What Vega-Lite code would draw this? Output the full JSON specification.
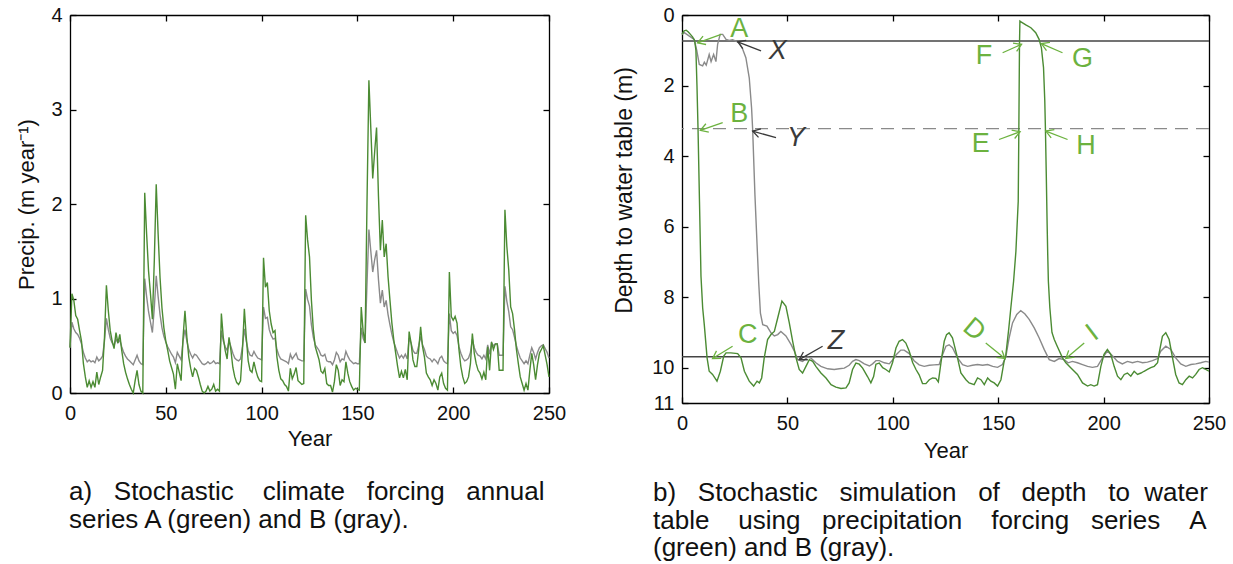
{
"$schema": "https://vega.github.io/schema/vega-lite/v6.json",
"padding": {"left": 15, "top": 5, "right": 20, "bottom": 5},
"autosize": {"type": "pad"},
"bounds": "flush",
"spacing": 133,
"config": {
  "font": "Liberation Sans",
  "view": {"stroke": null},
  "axis": {"domainColor": "#000000", "domainWidth": 1.3, "tickColor": "#000000", "tickWidth": 1.3, "tickSize": -6,
    "labelFont": "Liberation Sans", "labelFontSize": 20, "labelColor": "#111111", "labelFlush": false, "labelOverlap": false, "labelPadding": 14,
    "titleFont": "Liberation Sans", "titleFontSize": 22, "titleFontWeight": "normal", "titleColor": "#111111", "grid": false}
},
"datasets": {
  "precip": [
{"year":0,"A":0.48,"B":0.48},{"year":1,"A":1.05,"B":0.75},{"year":2,"A":0.98,"B":0.68},{"year":3,"A":0.82,"B":0.64},{"year":4,"A":0.78,"B":0.62},{"year":5,"A":0.66,"B":0.58},{"year":6,"A":0.55,"B":0.52},{"year":7,"A":0.31,"B":0.43},{"year":8,"A":0.17,"B":0.37},{"year":9,"A":0.06,"B":0.33},
{"year":10,"A":0.13,"B":0.35},{"year":11,"A":0.06,"B":0.33},{"year":12,"A":0.12,"B":0.34},{"year":13,"A":0.06,"B":0.32},{"year":14,"A":0.22,"B":0.38},{"year":15,"A":0.09,"B":0.34},{"year":16,"A":0.17,"B":0.36},{"year":17,"A":0.24,"B":0.39},{"year":18,"A":0.59,"B":0.55},{"year":19,"A":1.14,"B":0.79},
{"year":20,"A":0.87,"B":0.67},{"year":21,"A":0.66,"B":0.58},{"year":22,"A":0.55,"B":0.53},{"year":23,"A":0.47,"B":0.5},{"year":24,"A":0.64,"B":0.57},{"year":25,"A":0.53,"B":0.53},{"year":26,"A":0.62,"B":0.56},{"year":27,"A":0.45,"B":0.49},{"year":28,"A":0.31,"B":0.43},{"year":29,"A":0.22,"B":0.39},
{"year":30,"A":0.15,"B":0.36},{"year":31,"A":0.09,"B":0.34},{"year":32,"A":0.04,"B":0.32},{"year":33,"A":0.0,"B":0.3},{"year":34,"A":0.13,"B":0.35},{"year":35,"A":0.24,"B":0.4},{"year":36,"A":0.09,"B":0.34},{"year":37,"A":0.02,"B":0.31},{"year":38,"A":0.0,"B":0.3},{"year":39,"A":2.12,"B":1.21},
{"year":40,"A":1.68,"B":1.02},{"year":41,"A":1.29,"B":0.86},{"year":42,"A":1.05,"B":0.75},{"year":43,"A":0.78,"B":0.64},{"year":44,"A":1.4,"B":0.9},{"year":45,"A":2.21,"B":1.24},{"year":46,"A":1.68,"B":1.02},{"year":47,"A":1.22,"B":0.83},{"year":48,"A":0.9,"B":0.69},{"year":49,"A":0.69,"B":0.6},
{"year":50,"A":0.55,"B":0.54},{"year":51,"A":0.45,"B":0.49},{"year":52,"A":0.34,"B":0.45},{"year":53,"A":0.27,"B":0.41},{"year":54,"A":0.2,"B":0.38},{"year":55,"A":0.04,"B":0.32},{"year":56,"A":0.31,"B":0.43},{"year":57,"A":0.22,"B":0.39},{"year":58,"A":0.13,"B":0.35},{"year":59,"A":0.59,"B":0.55},
{"year":60,"A":0.87,"B":0.67},{"year":61,"A":0.59,"B":0.55},{"year":62,"A":0.38,"B":0.46},{"year":63,"A":0.26,"B":0.41},{"year":64,"A":0.17,"B":0.37},{"year":65,"A":0.26,"B":0.41},{"year":66,"A":0.24,"B":0.4},{"year":67,"A":0.17,"B":0.37},{"year":68,"A":0.09,"B":0.34},{"year":69,"A":0.02,"B":0.31},
{"year":70,"A":0.0,"B":0.3},{"year":71,"A":0.02,"B":0.31},{"year":72,"A":0.07,"B":0.33},{"year":73,"A":0.02,"B":0.31},{"year":74,"A":0.04,"B":0.32},{"year":75,"A":0.09,"B":0.34},{"year":76,"A":0.02,"B":0.31},{"year":77,"A":0.04,"B":0.32},{"year":78,"A":0.02,"B":0.31},{"year":79,"A":0.84,"B":0.66},
{"year":80,"A":0.59,"B":0.55},{"year":81,"A":0.45,"B":0.49},{"year":82,"A":0.36,"B":0.45},{"year":83,"A":0.59,"B":0.55},{"year":84,"A":0.45,"B":0.49},{"year":85,"A":0.27,"B":0.42},{"year":86,"A":0.17,"B":0.37},{"year":87,"A":0.11,"B":0.35},{"year":88,"A":0.09,"B":0.34},{"year":89,"A":0.13,"B":0.36},
{"year":90,"A":0.45,"B":0.49},{"year":91,"A":0.89,"B":0.68},{"year":92,"A":0.59,"B":0.55},{"year":93,"A":0.34,"B":0.45},{"year":94,"A":0.24,"B":0.4},{"year":95,"A":0.22,"B":0.39},{"year":96,"A":0.33,"B":0.44},{"year":97,"A":0.24,"B":0.4},{"year":98,"A":0.17,"B":0.37},{"year":99,"A":0.13,"B":0.36},
{"year":100,"A":0.12,"B":0.35},{"year":101,"A":1.43,"B":0.91},{"year":102,"A":1.12,"B":0.79},{"year":103,"A":1.17,"B":0.8},{"year":104,"A":0.87,"B":0.67},{"year":105,"A":0.73,"B":0.61},{"year":106,"A":0.64,"B":0.57},{"year":107,"A":0.66,"B":0.58},{"year":108,"A":0.38,"B":0.46},{"year":109,"A":0.24,"B":0.4},
{"year":110,"A":0.15,"B":0.36},{"year":111,"A":0.13,"B":0.35},{"year":112,"A":0.09,"B":0.34},{"year":113,"A":0.07,"B":0.33},{"year":114,"A":0.02,"B":0.31},{"year":115,"A":0.26,"B":0.41},{"year":116,"A":0.15,"B":0.36},{"year":117,"A":0.2,"B":0.39},{"year":118,"A":0.27,"B":0.42},{"year":119,"A":0.13,"B":0.36},
{"year":120,"A":0.11,"B":0.35},{"year":121,"A":0.09,"B":0.34},{"year":122,"A":0.1,"B":0.34},{"year":123,"A":1.88,"B":1.1},{"year":124,"A":1.62,"B":0.99},{"year":125,"A":1.44,"B":0.92},{"year":126,"A":0.98,"B":0.72},{"year":127,"A":0.67,"B":0.59},{"year":128,"A":0.49,"B":0.51},{"year":129,"A":0.42,"B":0.48},
{"year":130,"A":0.35,"B":0.45},{"year":131,"A":0.23,"B":0.4},{"year":132,"A":0.21,"B":0.39},{"year":133,"A":0.26,"B":0.41},{"year":134,"A":0.1,"B":0.34},{"year":135,"A":0.08,"B":0.33},{"year":136,"A":0.08,"B":0.33},{"year":137,"A":0.01,"B":0.3},{"year":138,"A":0.12,"B":0.35},{"year":139,"A":0.3,"B":0.43},
{"year":140,"A":0.24,"B":0.4},{"year":141,"A":0.08,"B":0.33},{"year":142,"A":0.14,"B":0.36},{"year":143,"A":0.12,"B":0.35},{"year":144,"A":0.33,"B":0.44},{"year":145,"A":0.21,"B":0.39},{"year":146,"A":0.12,"B":0.35},{"year":147,"A":0.07,"B":0.33},{"year":148,"A":0.03,"B":0.31},{"year":149,"A":0.05,"B":0.32},
{"year":150,"A":0.04,"B":0.31},{"year":151,"A":0.03,"B":0.31},{"year":152,"A":0.91,"B":0.69},{"year":153,"A":0.65,"B":0.58},{"year":154,"A":0.53,"B":0.53},{"year":155,"A":2.0,"B":1.15},{"year":156,"A":3.31,"B":1.73},{"year":157,"A":2.8,"B":1.5},{"year":158,"A":2.27,"B":1.28},{"year":159,"A":2.55,"B":1.41},
{"year":160,"A":2.81,"B":1.51},{"year":161,"A":2.08,"B":1.2},{"year":162,"A":1.51,"B":0.95},{"year":163,"A":1.83,"B":1.09},{"year":164,"A":1.44,"B":0.91},{"year":165,"A":1.58,"B":0.98},{"year":166,"A":1.23,"B":0.83},{"year":167,"A":0.98,"B":0.72},{"year":168,"A":0.74,"B":0.62},{"year":169,"A":0.56,"B":0.54},
{"year":170,"A":0.42,"B":0.48},{"year":171,"A":0.28,"B":0.42},{"year":172,"A":0.16,"B":0.37},{"year":173,"A":0.23,"B":0.4},{"year":174,"A":0.16,"B":0.37},{"year":175,"A":0.25,"B":0.41},{"year":176,"A":0.14,"B":0.36},{"year":177,"A":0.65,"B":0.58},{"year":178,"A":0.53,"B":0.53},{"year":179,"A":0.35,"B":0.45},
{"year":180,"A":0.28,"B":0.42},{"year":181,"A":0.28,"B":0.42},{"year":182,"A":0.46,"B":0.5},{"year":183,"A":0.7,"B":0.6},{"year":184,"A":0.49,"B":0.51},{"year":185,"A":0.38,"B":0.46},{"year":186,"A":0.21,"B":0.39},{"year":187,"A":0.17,"B":0.37},{"year":188,"A":0.14,"B":0.36},{"year":189,"A":0.08,"B":0.33},
{"year":190,"A":0.14,"B":0.36},{"year":191,"A":0.1,"B":0.34},{"year":192,"A":0.03,"B":0.31},{"year":193,"A":0.17,"B":0.37},{"year":194,"A":0.21,"B":0.39},{"year":195,"A":0.1,"B":0.34},{"year":196,"A":0.05,"B":0.32},{"year":197,"A":0.03,"B":0.31},{"year":198,"A":1.28,"B":0.84},{"year":199,"A":0.81,"B":0.66},
{"year":200,"A":0.77,"B":0.63},{"year":201,"A":0.81,"B":0.65},{"year":202,"A":0.74,"B":0.61},{"year":203,"A":0.46,"B":0.49},{"year":204,"A":0.28,"B":0.42},{"year":205,"A":0.17,"B":0.37},{"year":206,"A":0.1,"B":0.34},{"year":207,"A":0.12,"B":0.35},{"year":208,"A":0.17,"B":0.37},{"year":209,"A":0.31,"B":0.43},
{"year":210,"A":0.63,"B":0.57},{"year":211,"A":0.42,"B":0.48},{"year":212,"A":0.31,"B":0.43},{"year":213,"A":0.24,"B":0.4},{"year":214,"A":0.21,"B":0.39},{"year":215,"A":0.15,"B":0.36},{"year":216,"A":0.22,"B":0.4},{"year":217,"A":0.14,"B":0.36},{"year":218,"A":0.49,"B":0.51},{"year":219,"A":0.24,"B":0.41},
{"year":220,"A":0.54,"B":0.53},{"year":221,"A":0.46,"B":0.5},{"year":222,"A":0.52,"B":0.52},{"year":223,"A":0.52,"B":0.52},{"year":224,"A":0.24,"B":0.4},{"year":225,"A":0.24,"B":0.4},{"year":226,"A":0.24,"B":0.4},{"year":227,"A":1.94,"B":1.13},{"year":228,"A":1.55,"B":0.97},{"year":229,"A":1.3,"B":0.86},
{"year":230,"A":0.91,"B":0.7},{"year":231,"A":0.84,"B":0.67},{"year":232,"A":0.67,"B":0.59},{"year":233,"A":0.46,"B":0.5},{"year":234,"A":0.31,"B":0.43},{"year":235,"A":0.17,"B":0.37},{"year":236,"A":0.1,"B":0.34},{"year":237,"A":0.03,"B":0.31},{"year":238,"A":0.1,"B":0.34},{"year":239,"A":0.03,"B":0.31},
{"year":240,"A":0.24,"B":0.4},{"year":241,"A":0.42,"B":0.48},{"year":242,"A":0.3,"B":0.43},{"year":243,"A":0.14,"B":0.36},{"year":244,"A":0.3,"B":0.43},{"year":245,"A":0.42,"B":0.48},{"year":246,"A":0.46,"B":0.5},{"year":247,"A":0.5,"B":0.51},{"year":248,"A":0.4,"B":0.47},{"year":249,"A":0.3,"B":0.43},
{"year":250,"A":0.17,"B":0.37}
  ],
  "depthA": [
{"year":0,"depth":0.55},{"year":1,"depth":0.45},{"year":2,"depth":0.43},{"year":3,"depth":0.48},{"year":4,"depth":0.55},{"year":5,"depth":0.62},{"year":6,"depth":0.72},{"year":6.6,"depth":1.0},{"year":7.1,"depth":2.0},{"year":7.6,"depth":3.22},
{"year":8.3,"depth":5.3},{"year":9.0,"depth":7.4},{"year":9.8,"depth":8.3},{"year":10.6,"depth":8.8},{"year":11.9,"depth":9.72},{"year":12.9,"depth":10.1},{"year":14.5,"depth":10.19},{"year":16.6,"depth":10.38},{"year":18.2,"depth":10.1},{"year":19.8,"depth":9.67},
{"year":20.9,"depth":9.58},{"year":23.2,"depth":9.58},{"year":26.4,"depth":9.6},{"year":28,"depth":9.72},{"year":29.6,"depth":10.1},{"year":31.9,"depth":10.38},{"year":34,"depth":10.52},{"year":35.6,"depth":10.38},{"year":36.7,"depth":10.43},{"year":37.8,"depth":10.29},
{"year":39,"depth":9.72},{"year":40.6,"depth":9.2},{"year":42.2,"depth":9.06},{"year":43.8,"depth":8.97},{"year":45.4,"depth":8.59},{"year":47.4,"depth":8.11},{"year":49.3,"depth":8.26},{"year":50.9,"depth":8.73},{"year":52.5,"depth":9.25},{"year":54.1,"depth":9.72},
{"year":55.6,"depth":10.05},{"year":57.2,"depth":10.15},{"year":58.8,"depth":9.96},{"year":60.4,"depth":9.77},{"year":62,"depth":9.82},{"year":63.5,"depth":9.96},{"year":65.9,"depth":10.15},{"year":68.3,"depth":10.29},{"year":70.7,"depth":10.48},{"year":73,"depth":10.55},
{"year":75.4,"depth":10.59},{"year":77.8,"depth":10.57},{"year":79.3,"depth":10.43},{"year":80.9,"depth":10.05},{"year":82.5,"depth":9.87},{"year":84.1,"depth":9.9},{"year":85.7,"depth":10.01},{"year":88,"depth":10.25},{"year":89.6,"depth":10.43},{"year":90.9,"depth":10.25},
{"year":92,"depth":9.9},{"year":93.6,"depth":9.87},{"year":95.2,"depth":10.0},{"year":96.7,"depth":10.05},{"year":98.3,"depth":10.12},{"year":99.9,"depth":9.85},{"year":101.5,"depth":9.44},{"year":103,"depth":9.25},{"year":104.6,"depth":9.2},{"year":106.2,"depth":9.3},
{"year":107.8,"depth":9.53},{"year":109.4,"depth":9.85},{"year":111,"depth":10.05},{"year":112.5,"depth":10.2},{"year":114.1,"depth":10.45},{"year":115.7,"depth":10.45},{"year":117.3,"depth":10.34},{"year":118.9,"depth":10.29},{"year":120.4,"depth":10.3},{"year":121.6,"depth":10.4},
{"year":123.1,"depth":9.75},{"year":124.4,"depth":9.25},{"year":125.5,"depth":9.06},{"year":126.7,"depth":9.01},{"year":128.3,"depth":9.15},{"year":130.7,"depth":9.72},{"year":132.3,"depth":10.15},{"year":134.7,"depth":10.34},{"year":136.2,"depth":10.43},{"year":138.6,"depth":10.48},
{"year":140.2,"depth":10.29},{"year":141.8,"depth":10.34},{"year":143.4,"depth":10.48},{"year":145,"depth":10.29},{"year":146.5,"depth":10.38},{"year":148.1,"depth":10.43},{"year":149.7,"depth":10.52},{"year":151.3,"depth":10.34},{"year":152.8,"depth":9.82},{"year":153.6,"depth":9.65},
{"year":155,"depth":8.9},{"year":156,"depth":8.3},{"year":157.3,"depth":7.55},{"year":158.4,"depth":6.7},{"year":159.5,"depth":5.28},{"year":159.8,"depth":3.22},{"year":160.1,"depth":0.83},{"year":160.3,"depth":0.17},{"year":161,"depth":0.2},{"year":163.1,"depth":0.28},
{"year":165.5,"depth":0.36},{"year":167.8,"depth":0.5},{"year":169.4,"depth":0.69},{"year":170.5,"depth":0.93},{"year":171.5,"depth":1.49},{"year":172.1,"depth":2.44},{"year":172.4,"depth":3.22},{"year":172.8,"depth":4.5},{"year":173.2,"depth":5.9},{"year":173.5,"depth":6.8},
{"year":173.8,"depth":7.55},{"year":174.5,"depth":8.3},{"year":175.5,"depth":9.0},{"year":176.6,"depth":9.2},{"year":178,"depth":9.39},{"year":180.5,"depth":9.72},{"year":182.1,"depth":9.86},{"year":184.4,"depth":10.0},{"year":187.6,"depth":10.19},{"year":190,"depth":10.43},
{"year":192.4,"depth":10.52},{"year":193.9,"depth":10.48},{"year":195.5,"depth":10.52},{"year":197.1,"depth":10.48},{"year":198.7,"depth":9.96},{"year":200.2,"depth":9.62},{"year":201.8,"depth":9.48},{"year":203.4,"depth":9.62},{"year":205,"depth":9.96},{"year":206.6,"depth":10.24},
{"year":208.2,"depth":10.34},{"year":209.8,"depth":10.19},{"year":211.3,"depth":10.15},{"year":212.9,"depth":10.24},{"year":214.5,"depth":10.1},{"year":216.1,"depth":10.19},{"year":217.7,"depth":10.15},{"year":219.2,"depth":10.1},{"year":220.8,"depth":10.05},{"year":222.4,"depth":10.0},
{"year":224,"depth":9.96},{"year":225.6,"depth":9.86},{"year":226.3,"depth":9.6},{"year":227.9,"depth":9.11},{"year":229.5,"depth":9.01},{"year":231.1,"depth":9.2},{"year":232.7,"depth":9.72},{"year":234.2,"depth":10.19},{"year":235.8,"depth":10.43},{"year":237.4,"depth":10.48},
{"year":239,"depth":10.34},{"year":240.6,"depth":10.24},{"year":242.2,"depth":10.29},{"year":243.7,"depth":10.19},{"year":245.3,"depth":10.05},{"year":246.9,"depth":10.0},{"year":248.5,"depth":10.05},{"year":250,"depth":10.1}
  ],
  "depthB": [
{"year":0,"depth":0.55},{"year":1.1,"depth":0.5},{"year":3.5,"depth":0.6},{"year":5.8,"depth":0.69},{"year":7.0,"depth":1.0},{"year":8.2,"depth":1.4},{"year":9.8,"depth":1.44},{"year":10.6,"depth":1.34},{"year":11.5,"depth":1.42},{"year":12.9,"depth":1.12},
{"year":13.8,"depth":1.32},{"year":15,"depth":1.12},{"year":16.1,"depth":1.32},{"year":16.9,"depth":0.83},{"year":18.1,"depth":0.55},{"year":19.3,"depth":0.55},{"year":20.9,"depth":0.69},{"year":22.4,"depth":0.72},{"year":24,"depth":0.7},{"year":25.6,"depth":0.74},
{"year":27.2,"depth":0.79},{"year":28.8,"depth":0.97},{"year":30.3,"depth":1.21},{"year":31.9,"depth":1.78},{"year":33,"depth":2.63},{"year":33.5,"depth":3.22},{"year":34.6,"depth":5.1},{"year":35.6,"depth":6.5},{"year":36.4,"depth":7.6},{"year":37.2,"depth":8.45},
{"year":38.3,"depth":8.78},{"year":40.3,"depth":8.82},{"year":42.2,"depth":9.01},{"year":43.8,"depth":9.1},{"year":45.4,"depth":9.06},{"year":46.9,"depth":8.97},{"year":49.3,"depth":9.1},{"year":51.7,"depth":9.34},{"year":53.3,"depth":9.53},{"year":54.9,"depth":9.77},
{"year":57.2,"depth":9.82},{"year":59.6,"depth":9.7},{"year":61.2,"depth":9.73},{"year":63.5,"depth":9.86},{"year":65.9,"depth":9.96},{"year":69.1,"depth":10.03},{"year":72.2,"depth":10.05},{"year":74.6,"depth":10.03},{"year":77,"depth":10.01},{"year":79.3,"depth":9.93},
{"year":80.9,"depth":9.82},{"year":82.5,"depth":9.77},{"year":84.1,"depth":9.8},{"year":86.5,"depth":9.89},{"year":88.9,"depth":9.95},{"year":90.4,"depth":9.89},{"year":92,"depth":9.8},{"year":93.6,"depth":9.8},{"year":96,"depth":9.86},{"year":98.3,"depth":9.89},
{"year":99.9,"depth":9.78},{"year":101.5,"depth":9.64},{"year":103.8,"depth":9.5},{"year":105.4,"depth":9.5},{"year":107.8,"depth":9.6},{"year":110.1,"depth":9.8},{"year":112.5,"depth":9.92},{"year":114.9,"depth":9.96},{"year":117.3,"depth":9.93},{"year":119.6,"depth":9.92},
{"year":122,"depth":9.91},{"year":123.6,"depth":9.63},{"year":125.2,"depth":9.39},{"year":126.7,"depth":9.35},{"year":128.3,"depth":9.43},{"year":130.7,"depth":9.72},{"year":133.1,"depth":9.91},{"year":135.5,"depth":9.96},{"year":137.8,"depth":9.93},{"year":140.2,"depth":9.91},
{"year":142.6,"depth":9.93},{"year":145,"depth":9.91},{"year":147.4,"depth":9.96},{"year":149.7,"depth":9.99},{"year":152,"depth":9.91},{"year":153.6,"depth":9.7},{"year":155.2,"depth":9.15},{"year":156.8,"depth":8.73},{"year":158.8,"depth":8.49},{"year":160.7,"depth":8.38},
{"year":162.6,"depth":8.47},{"year":164.7,"depth":8.63},{"year":167.1,"depth":8.87},{"year":169.4,"depth":9.15},{"year":171.8,"depth":9.48},{"year":174.2,"depth":9.77},{"year":176.6,"depth":9.82},{"year":178.9,"depth":9.74},{"year":181.3,"depth":9.77},{"year":183.2,"depth":9.86},
{"year":185.2,"depth":9.82},{"year":187.6,"depth":9.86},{"year":190,"depth":9.91},{"year":192.4,"depth":9.96},{"year":194.7,"depth":9.99},{"year":197.1,"depth":9.96},{"year":199.5,"depth":9.72},{"year":201.8,"depth":9.53},{"year":204.2,"depth":9.66},{"year":206.6,"depth":9.82},
{"year":208.9,"depth":9.89},{"year":211.3,"depth":9.82},{"year":213.7,"depth":9.86},{"year":216.1,"depth":9.82},{"year":218.5,"depth":9.86},{"year":220.8,"depth":9.84},{"year":223.2,"depth":9.8},{"year":225.6,"depth":9.74},{"year":227.1,"depth":9.53},{"year":229.5,"depth":9.39},
{"year":231.9,"depth":9.48},{"year":234.2,"depth":9.72},{"year":236.6,"depth":9.89},{"year":239,"depth":9.96},{"year":241.4,"depth":9.91},{"year":243.7,"depth":9.89},{"year":246.1,"depth":9.86},{"year":248.5,"depth":9.82},{"year":250,"depth":9.84}
  ],
  "notes": [
{"label":"A","series":"A","lx":27.2,"ly":0.41,"x1":18.6,"y1":0.55,"x2":7.4,"y2":0.79,"dir":160},
{"label":"B","series":"A","lx":27.2,"ly":2.82,"x1":19.3,"y1":3.05,"x2":8.7,"y2":3.27,"dir":161},
{"label":"C","series":"A","lx":31.2,"ly":9.06,"x1":24,"y1":9.39,"x2":14.5,"y2":9.74,"dir":148},
{"label":"D","series":"A","lx":138.6,"ly":8.92,"x1":144.1,"y1":9.3,"x2":153.2,"y2":9.74,"dir":39},
{"label":"E","series":"A","lx":141.7,"ly":3.67,"x1":150.4,"y1":3.53,"x2":160.4,"y2":3.31,"dir":340},
{"label":"F","series":"A","lx":143.3,"ly":1.16,"x1":152.1,"y1":1.07,"x2":161.1,"y2":0.83,"dir":336},
{"label":"G","series":"A","lx":190,"ly":1.26,"x1":180.5,"y1":1.07,"x2":170.5,"y2":0.81,"dir":203},
{"label":"H","series":"A","lx":191.6,"ly":3.72,"x1":182.9,"y1":3.53,"x2":172.6,"y2":3.29,"dir":201},
{"label":"I","series":"A","lx":194.7,"ly":9.01,"x1":190.8,"y1":9.3,"x2":182.1,"y2":9.74,"dir":140},
{"label":"X","series":"B","lx":45.4,"ly":1.02,"x1":37.5,"y1":1.02,"x2":26.4,"y2":0.76,"dir":202},
{"label":"Y","series":"B","lx":54.1,"ly":3.48,"x1":44.6,"y1":3.48,"x2":33.5,"y2":3.29,"dir":196},
{"label":"Z","series":"B","lx":73,"ly":9.25,"x1":66.7,"y1":9.39,"x2":55.6,"y2":9.77,"dir":150}
  ]
},
"hconcat": [
  {
    "width": 479, "height": 378,
    "title": {"text": ["a)\u00a0\u00a0\u00a0Stochastic\u00a0\u00a0\u00a0\u00a0climate\u00a0\u00a0\u00a0forcing\u00a0\u00a0\u00a0annual", "series A (green) and B (gray)."],
      "orient": "bottom", "anchor": "start", "frame": "group", "baseline": "alphabetic", "offset": 51, "dx": -1,
      "font": "Liberation Sans", "fontSize": 26, "fontWeight": "normal", "color": "#111111", "lineHeight": 27.5},
    "data": {"name": "precip"},
    "layer": [
      {"mark": {"type": "line", "color": "#8a8a8a", "strokeWidth": 1.4},
       "encoding": {
         "x": {"field": "year", "type": "quantitative", "scale": {"domain": [0, 250], "nice": false},
               "axis": {"orient": "bottom", "values": [0, 50, 100, 150, 200, 250], "title": "Year", "labelPadding": 16, "titlePadding": 5}},
         "y": {"field": "B", "type": "quantitative", "scale": {"domain": [0, 4], "nice": false},
               "axis": {"orient": "left", "values": [0, 1, 2, 3, 4], "title": "Precip. (m year\u207b\u00b9)", "titlePadding": 12}}}},
      {"mark": {"type": "line", "color": "#4b8b33", "strokeWidth": 1.4},
       "encoding": {
         "x": {"field": "year", "type": "quantitative", "scale": {"domain": [0, 250], "nice": false},
               "axis": {"orient": "top", "values": [0, 50, 100, 150, 200, 250], "labels": false, "title": null}},
         "y": {"field": "A", "type": "quantitative", "scale": {"domain": [0, 4], "nice": false},
               "axis": {"orient": "right", "values": [0, 1, 2, 3, 4], "labels": false, "title": null}}}}
    ],
    "resolve": {"axis": {"x": "independent", "y": "independent"}}
  },
  {
    "width": 527, "height": 388,
    "title": {"text": ["b)\u00a0\u00a0\u00a0Stochastic\u00a0\u00a0\u00a0simulation\u00a0\u00a0\u00a0of\u00a0\u00a0\u00a0depth\u00a0\u00a0\u00a0to\u00a0\u00a0water", "table\u00a0\u00a0\u00a0\u00a0using\u00a0\u00a0\u00a0precipitation\u00a0\u00a0\u00a0\u00a0forcing\u00a0\u00a0\u00a0series\u00a0\u00a0\u00a0\u00a0A", "(green) and B (gray)."],
      "orient": "bottom", "anchor": "start", "frame": "group", "baseline": "alphabetic", "offset": 40, "dx": -29,
      "font": "Liberation Sans", "fontSize": 26, "fontWeight": "normal", "color": "#111111", "lineHeight": 27.5},
    "layer": [
      {"data": {"values": [{"depth": 0.74}, {"depth": 9.69}]},
       "mark": {"type": "rule", "color": "#444444", "strokeWidth": 1.5},
       "encoding": {
         "y": {"field": "depth", "type": "quantitative", "scale": {"domain": [0, 11], "reverse": true, "nice": false},
               "axis": {"orient": "left", "values": [0, 2, 4, 6, 8, 10, 11], "title": "Depth to water table (m)", "titleFontSize": 23, "titlePadding": 15, "titleY": 175}}}},
      {"data": {"values": [{"depth": 3.22}]},
       "mark": {"type": "rule", "color": "#8a8a8a", "strokeWidth": 1.3, "strokeDash": [13, 8]},
       "encoding": {
         "y": {"field": "depth", "type": "quantitative", "scale": {"domain": [0, 11], "reverse": true, "nice": false}, "axis": null}}},
      {"data": {"name": "depthB"},
       "mark": {"type": "line", "color": "#8a8a8a", "strokeWidth": 1.4},
       "encoding": {
         "x": {"field": "year", "type": "quantitative", "scale": {"domain": [0, 250], "nice": false},
               "axis": {"orient": "bottom", "values": [0, 50, 100, 150, 200, 250], "title": "Year", "labelPadding": 16, "titlePadding": 7}},
         "y": {"field": "depth", "type": "quantitative", "scale": {"domain": [0, 11], "reverse": true, "nice": false},
               "axis": {"orient": "right", "values": [0, 2, 4, 6, 8, 10, 11], "labels": false, "title": null}}}},
      {"data": {"name": "depthA"},
       "mark": {"type": "line", "color": "#4b8b33", "strokeWidth": 1.4},
       "encoding": {
         "x": {"field": "year", "type": "quantitative", "scale": {"domain": [0, 250], "nice": false},
               "axis": {"orient": "top", "values": [0, 50, 100, 150, 200, 250], "labels": false, "title": null}},
         "y": {"field": "depth", "type": "quantitative", "scale": {"domain": [0, 11], "reverse": true, "nice": false}, "axis": null}}},
      {"data": {"name": "notes"},
       "mark": {"type": "rule", "strokeWidth": 1.3},
       "encoding": {
         "x": {"field": "x1", "type": "quantitative", "scale": {"domain": [0, 250], "nice": false}, "axis": null},
         "y": {"field": "y1", "type": "quantitative", "scale": {"domain": [0, 11], "reverse": true, "nice": false}, "axis": null},
         "x2": {"field": "x2"}, "y2": {"field": "y2"},
         "color": {"field": "series", "type": "nominal", "scale": {"domain": ["A", "B"], "range": ["#6cb23f", "#3a3a3a"]}, "legend": null}}},
      {"data": {"name": "notes"},
       "mark": {"type": "point", "shape": "M-1,-0.6L0,0L-1,0.6", "filled": false, "size": 220, "strokeWidth": 1.3, "opacity": 1},
       "encoding": {
         "x": {"field": "x2", "type": "quantitative", "scale": {"domain": [0, 250], "nice": false}, "axis": null},
         "y": {"field": "y2", "type": "quantitative", "scale": {"domain": [0, 11], "reverse": true, "nice": false}, "axis": null},
         "angle": {"field": "dir", "type": "quantitative", "scale": null},
         "color": {"field": "series", "type": "nominal", "scale": {"domain": ["A", "B"], "range": ["#6cb23f", "#3a3a3a"]}, "legend": null}}},
      {"data": {"name": "notes"},
       "transform": [{"filter": {"and": [{"field": "series", "equal": "A"}, {"not": {"field": "label", "oneOf": ["D", "I"]}}]}}],
       "mark": {"type": "text", "font": "Liberation Sans", "fontSize": 27, "align": "center", "baseline": "middle"},
       "encoding": {
         "x": {"field": "lx", "type": "quantitative", "scale": {"domain": [0, 250], "nice": false}, "axis": null},
         "y": {"field": "ly", "type": "quantitative", "scale": {"domain": [0, 11], "reverse": true, "nice": false}, "axis": null},
         "text": {"field": "label"},
         "color": {"field": "series", "type": "nominal", "scale": {"domain": ["A", "B"], "range": ["#6cb23f", "#3a3a3a"]}, "legend": null}}},
      {"data": {"name": "notes"},
       "transform": [{"filter": {"field": "series", "equal": "B"}}],
       "mark": {"type": "text", "font": "Liberation Sans", "fontSize": 27, "fontStyle": "italic", "align": "center", "baseline": "middle"},
       "encoding": {
         "x": {"field": "lx", "type": "quantitative", "scale": {"domain": [0, 250], "nice": false}, "axis": null},
         "y": {"field": "ly", "type": "quantitative", "scale": {"domain": [0, 11], "reverse": true, "nice": false}, "axis": null},
         "text": {"field": "label"},
         "color": {"field": "series", "type": "nominal", "scale": {"domain": ["A", "B"], "range": ["#6cb23f", "#3a3a3a"]}, "legend": null}}},
      {"data": {"name": "notes"},
       "transform": [{"filter": {"field": "label", "equal": "D"}}],
       "mark": {"type": "text", "font": "Liberation Sans", "fontSize": 27, "align": "center", "baseline": "middle", "angle": 40},
       "encoding": {
         "x": {"field": "lx", "type": "quantitative", "scale": {"domain": [0, 250], "nice": false}, "axis": null},
         "y": {"field": "ly", "type": "quantitative", "scale": {"domain": [0, 11], "reverse": true, "nice": false}, "axis": null},
         "text": {"field": "label"},
         "color": {"field": "series", "type": "nominal", "scale": {"domain": ["A", "B"], "range": ["#6cb23f", "#3a3a3a"]}, "legend": null}}},
      {"data": {"name": "notes"},
       "transform": [{"filter": {"field": "label", "equal": "I"}}],
       "mark": {"type": "text", "font": "Liberation Sans", "fontSize": 27, "align": "center", "baseline": "middle", "angle": -37},
       "encoding": {
         "x": {"field": "lx", "type": "quantitative", "scale": {"domain": [0, 250], "nice": false}, "axis": null},
         "y": {"field": "ly", "type": "quantitative", "scale": {"domain": [0, 11], "reverse": true, "nice": false}, "axis": null},
         "text": {"field": "label"},
         "color": {"field": "series", "type": "nominal", "scale": {"domain": ["A", "B"], "range": ["#6cb23f", "#3a3a3a"]}, "legend": null}}}
    ],
    "resolve": {"axis": {"x": "independent", "y": "independent"}}
  }
]
}
